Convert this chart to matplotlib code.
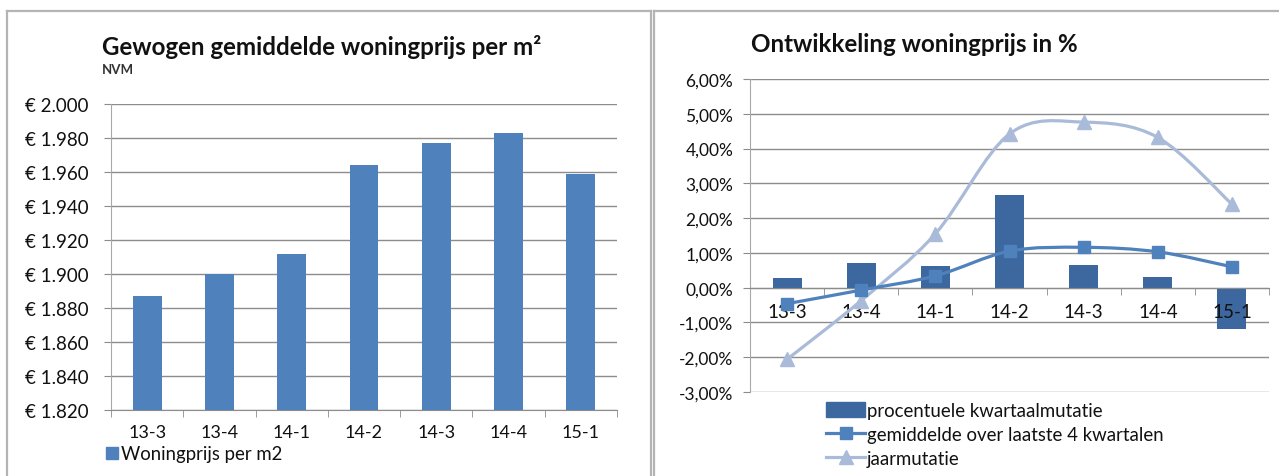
import numpy as np
import matplotlib
matplotlib.use('Agg')
import matplotlib.pyplot as plt
from matplotlib.path import Path
from matplotlib.patches import PathPatch, Patch
from matplotlib.lines import Line2D
from matplotlib.ticker import FuncFormatter, FixedLocator

plt.rcParams['font.family'] = ['Lato', 'DejaVu Sans']

# Kwartalen en cijfers (NVM)
kwartalen = ['13-3', '13-4', '14-1', '14-2', '14-3', '14-4', '15-1']
prijs_m2 = [1887, 1900, 1912, 1964, 1977, 1983, 1959]
kwartaalmutatie = [0.28, 0.72, 0.61, 2.67, 0.65, 0.31, -1.18]
gemiddelde_4kw = [-0.46, -0.07, 0.34, 1.05, 1.16, 1.03, 0.60]
jaarmutatie = [-2.06, -0.37, 1.55, 4.42, 4.76, 4.32, 2.40]

blauw = '#4f81bd'
donkerblauw = '#3c679f'
lichtblauw = '#a9bbd8'
grid_kleur = '#8c8c8c'
tekst = '#111111'


def smooth_path(xs, ys):
    # Bezier-segmenten zoals Excel's "vloeiende lijn"
    n = len(xs)
    verts = [(xs[0], ys[0])]
    codes = [Path.MOVETO]
    for i in range(n - 1):
        xp, yp = (xs[i - 1], ys[i - 1]) if i > 0 else (xs[i], ys[i])
        xn, yn = (xs[i + 2], ys[i + 2]) if i + 2 < n else (xs[i + 1], ys[i + 1])
        c1 = (xs[i] + (xs[i + 1] - xp) / 6, ys[i] + (ys[i + 1] - yp) / 6)
        c2 = (xs[i + 1] - (xn - xs[i]) / 6, ys[i + 1] - (yn - ys[i]) / 6)
        verts += [c1, c2, (xs[i + 1], ys[i + 1])]
        codes += [Path.CURVE4] * 3
    return Path(verts, codes)


def style_axes(ax, ysize, ypad):
    for s in ['top', 'right']:
        ax.spines[s].set_visible(False)
    ax.spines['left'].set_color('#a8a8a8')
    ax.spines['bottom'].set_color(grid_kleur)
    ax.grid(axis='y', color=grid_kleur, linewidth=1.0)
    ax.set_axisbelow(True)
    ax.tick_params(axis='y', length=5, color=grid_kleur, labelsize=ysize,
                   labelcolor=tekst, pad=ypad)
    ax.tick_params(axis='x', which='major', length=0, labelsize=13,
                   labelcolor=tekst)
    ax.tick_params(axis='x', which='minor', length=5, color=grid_kleur)


fig = plt.figure(figsize=(12.79, 4.77), dpi=100)
W, H = 1279, 477

# kaders rond beide grafieken
rand = dict(color='#b4b4b4', lw=1.6)
fig.add_artist(Line2D([7 / W, 7 / W], [0, 1 - 12 / H], **rand))
fig.add_artist(Line2D([651 / W, 651 / W], [0, 1 - 12 / H], **rand))
fig.add_artist(Line2D([7 / W, 651 / W], [1 - 12 / H, 1 - 12 / H], **rand))
fig.add_artist(Line2D([654 / W, 654 / W], [0, 1 - 12 / H], **rand))
fig.add_artist(Line2D([654 / W, 1], [1 - 12 / H, 1 - 12 / H], **rand))

x = np.arange(len(kwartalen))

# ---------- links: woningprijs per m2 ----------
ax1 = fig.add_axes([111 / W, 1 - 411 / H, (617 - 111) / W, (411 - 105) / H])
ax1.bar(x, prijs_m2, width=0.4, color=blauw, zorder=3)
ax1.set_xlim(-0.5, len(kwartalen) - 0.5)
ax1.set_ylim(1820, 2000)
ax1.set_yticks(np.arange(1820, 2001, 20))
ax1.yaxis.set_major_formatter(FuncFormatter(
    lambda v, p: '€ ' + f'{v:,.0f}'.replace(',', '.')))
ax1.set_xticks(x)
ax1.set_xticklabels(kwartalen)
ax1.xaxis.set_minor_locator(FixedLocator(np.arange(-0.5, len(kwartalen), 1)))
style_axes(ax1, 13.5, 11)
ax1.tick_params(axis='x', which='major', pad=10)

fig.text(102 / W, 1 - 47 / H, 'Gewogen gemiddelde woningprijs per m²',
         fontsize=17.4, fontweight='bold', color=tekst, va='center')
fig.text(102 / W, 1 - 70 / H, 'NVM', fontsize=9.5, fontweight='bold',
         color='#333333', va='center')
fig.legend(handles=[Patch(color=blauw, label='Woningprijs per m2')],
           loc='center left', bbox_to_anchor=(106 / W, 1 - 455 / H),
           frameon=False, fontsize=13.4, handlelength=0.65, handleheight=0.65,
           handletextpad=0.15, borderpad=0, borderaxespad=0, labelcolor=tekst)

# ---------- rechts: ontwikkeling in % ----------
ax2 = fig.add_axes([750 / W, 1 - 393 / H, (1269 - 750) / W, (393 - 80) / H])
ax2.bar(x, kwartaalmutatie, width=0.39, color=donkerblauw, zorder=2)
ax2.add_patch(PathPatch(smooth_path(x, jaarmutatie), fill=False,
                        edgecolor=lichtblauw, lw=2.3, zorder=4))
ax2.plot(x, jaarmutatie, ls='none', marker='^', ms=10, color=lichtblauw, zorder=4.5)
ax2.add_patch(PathPatch(smooth_path(x, gemiddelde_4kw), fill=False,
                        edgecolor=blauw, lw=2.3, zorder=5))
ax2.plot(x, gemiddelde_4kw, ls='none', marker='s', ms=8.5, color=blauw, zorder=6)
ax2.set_xlim(-0.5, len(kwartalen) - 0.5)
ax2.set_ylim(-3, 6)
ax2.set_yticks(np.arange(-3, 6.01, 1))
ax2.yaxis.set_major_formatter(FuncFormatter(
    lambda v, p: f'{v:.2f}%'.replace('.', ',')))
ax2.set_xticks(x)
ax2.set_xticklabels([])
ax2.xaxis.set_minor_locator(FixedLocator(np.arange(-0.5, len(kwartalen), 1)))
style_axes(ax2, 12.5, 7)
ax2.spines['bottom'].set_position(('data', 0))
# kwartaallabels boven de staven, onder de lijnen
for i, lab in enumerate(kwartalen):
    ax2.annotate(lab, (x[i], 0), xytext=(0, -11), textcoords='offset points',
                 ha='center', va='top', fontsize=13.5, color=tekst, zorder=3)

fig.text(751 / W, 1 - 45 / H, 'Ontwikkeling woningprijs in %',
         fontsize=17.4, fontweight='bold', color=tekst, va='center')

handles2 = [
    Patch(color=donkerblauw, label='procentuele kwartaalmutatie'),
    Line2D([], [], color=blauw, lw=2.3, marker='s', ms=8.5,
           label='gemiddelde over laatste 4 kwartalen'),
    Line2D([], [], color=lichtblauw, lw=2.3, marker='^', ms=10, label='jaarmutatie'),
]
fig.legend(handles=handles2, loc='upper left',
           bbox_to_anchor=(826 / W, 1 - 403 / H), frameon=False, fontsize=13.4,
           handlelength=2.1, handleheight=0.8, handletextpad=0.1,
           labelspacing=0.38, borderpad=0, borderaxespad=0, labelcolor=tekst)

fig.savefig('out.png', dpi=100, facecolor='white')
